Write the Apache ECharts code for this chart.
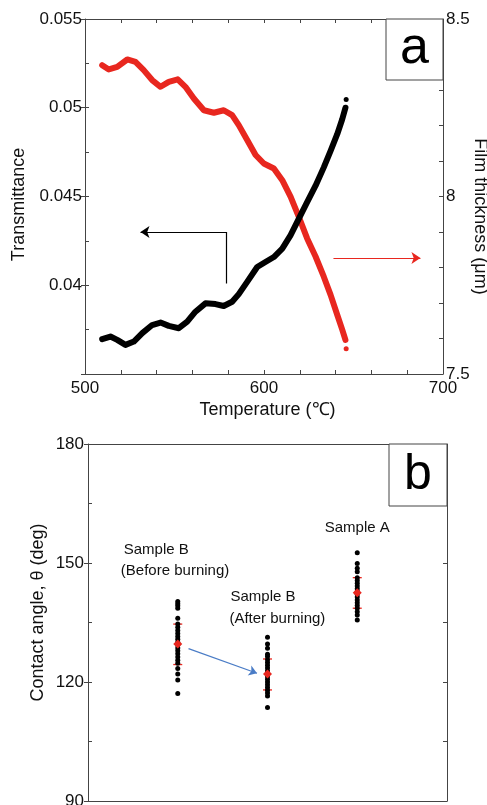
<!DOCTYPE html>
<html>
<head>
<meta charset="utf-8">
<script src="https://cdn.jsdelivr.net/npm/echarts/dist/echarts.min.js"></script>
<style>
html,body{margin:0;padding:0;background:#fff;}
#c{width:487px;height:805px;}
</style>
</head>
<body>
<div id="c"></div>
<script>
// ---------- Panel a data ----------
const tempBlack = [509.6, 514.2, 518.0, 522.6, 527.3, 532.0, 537.5, 542.2, 546.8, 552.4, 557.1, 561.7, 567.3, 572.9, 577.5, 582.2, 585.9, 590.6, 596.2, 600.8, 605.5, 610.2, 614.8, 619.4, 624.1, 628.8, 633.4, 637.2, 640.9, 643.7, 645.5];
const transmittance = [0.03696, 0.03711, 0.03692, 0.03664, 0.03683, 0.0373, 0.03776, 0.0379, 0.03771, 0.03758, 0.03795, 0.03851, 0.03898, 0.03894, 0.03883, 0.03907, 0.0395, 0.04019, 0.04103, 0.04131, 0.04159, 0.04206, 0.04281, 0.04374, 0.04468, 0.04561, 0.04664, 0.04757, 0.04851, 0.04935, 0.05];
const tempRed = [509.6, 513.3, 518.0, 523.6, 528.2, 532.8, 537.5, 542.2, 546.8, 551.8, 556.1, 560.8, 566.4, 572.0, 577.5, 582.2, 585.9, 590.6, 595.3, 599.9, 605.5, 610.2, 614.9, 619.4, 624.1, 628.8, 633.4, 637.2, 640.9, 643.7, 645.5];
const thickness = [8.370, 8.358, 8.365, 8.386, 8.379, 8.356, 8.328, 8.309, 8.323, 8.330, 8.309, 8.276, 8.243, 8.236, 8.243, 8.229, 8.201, 8.159, 8.117, 8.093, 8.079, 8.046, 7.999, 7.943, 7.882, 7.831, 7.774, 7.723, 7.667, 7.625, 7.596];
const blackEnd = [645.9, 0.05047];
const redEnd = [645.9, 7.571];
const blackArrow = [[579.1, 0.0401], [579.1, 0.0430], [531.0, 0.0430]];
const redArrow = [[638.8, 7.827], [687.4, 7.827]];

// ---------- Panel b data ----------
const groups = ['Sample B (Before burning)', 'Sample B (After burning)', 'Sample A'];
const groupPos = [1, 2, 3];
const beforeBurning = [140.3, 139.7, 139.2, 138.6, 136.1, 134.6, 133.8, 133.0, 132.2, 131.5, 130.8, 130.0, 129.3, 128.6, 127.9, 127.1, 126.3, 125.5, 124.7, 123.4, 122.0, 120.5, 117.1];
const afterBurning = [131.3, 129.6, 128.5, 127.0, 126.4, 125.6, 124.9, 124.2, 123.5, 122.8, 122.1, 121.4, 120.7, 120.0, 119.3, 118.6, 117.9, 117.2, 116.5, 113.6];
const sampleA = [152.6, 149.9, 148.7, 147.8, 146.3, 145.6, 144.9, 144.2, 143.5, 142.8, 142.1, 141.4, 140.7, 140.0, 139.3, 138.6, 137.7, 136.9, 135.6];
const means = [129.6, 122.0, 142.5];
const errLow = [124.4, 118.0, 138.6];
const errHigh = [134.6, 125.8, 146.3];
const blueArrow = [[1.12, 128.4], [1.883, 122.2]];
const annTexts = ['Sample B', '(Before burning)', 'Sample B', '(After burning)', 'Sample A'];
const annX = [0.76, 0.97, 1.95, 2.11, 3.0];
const annY = [153.3, 148.0, 141.4, 135.9, 158.9];

// ---------- layout ----------
const FONT = 'Liberation Sans, Arial, sans-serif';
const AX = '#444';
const TXT = '#111';
const RED = '#e8271f';
const g0 = {left: 85, top: 19, width: 358, height: 355};
const g1 = {left: 88, top: 444, width: 359, height: 357};

const chart = echarts.init(document.getElementById('c'), null, {renderer: 'canvas'});

function zip(a, b) { return a.map((v, i) => [v, b[i]]); }
const lbl = {fontSize: 17, color: TXT, fontFamily: FONT};
function nameStyle(padding) { return {fontSize: 18, color: TXT, fontFamily: FONT, padding: padding}; }

const dotData = [];
[beforeBurning, afterBurning, sampleA].forEach((arr, g) => arr.forEach(v => dotData.push([groupPos[g], v])));

// arrow segments: all but the last segment plain, last one with arrow head
const blackSegments = blackArrow.slice(1).map((p, i) => ({
  coords: [blackArrow[i], p],
  symbol: i === blackArrow.length - 2 ? ['none', 'arrow'] : ['none', 'none']
}));

const option = {
  animation: false,
  backgroundColor: '#fff',
  textStyle: {fontFamily: FONT},
  grid: [
    {left: g0.left, top: g0.top, width: g0.width, height: g0.height, containLabel: false, outerBoundsMode: 'none'},
    {left: g1.left, top: g1.top, width: g1.width, height: g1.height, containLabel: false, outerBoundsMode: 'none'}
  ],
  xAxis: [
    {gridIndex: 0, type: 'value', position: 'bottom', min: 500, max: 700, interval: 20,
     axisLine: {show: true, lineStyle: {color: AX, width: 1}},
     axisTick: {show: true, inside: true, length: 4, lineStyle: {color: AX}},
     axisLabel: Object.assign({margin: 6, formatter: v => (Math.round(v) % 100 === 0 ? String(Math.round(v)) : '')}, lbl),
     splitLine: {show: false},
     name: 'Temperature (\u2103)', nameLocation: 'middle', nameGap: 27, nameMoveOverlap: false, nameTextStyle: nameStyle([0, 0, 0, 7])},
    {gridIndex: 0, type: 'value', position: 'top', min: 500, max: 700, interval: 20,
     axisLine: {show: true, lineStyle: {color: AX, width: 1}},
     axisTick: {show: true, inside: true, length: 4, lineStyle: {color: AX}},
     axisLabel: {show: false}, splitLine: {show: false}},
    {gridIndex: 1, type: 'value', position: 'bottom', min: 0, max: 4,
     axisLine: {show: true, lineStyle: {color: AX, width: 1}},
     axisTick: {show: false}, axisLabel: {show: false}, splitLine: {show: false}},
    {gridIndex: 1, type: 'value', position: 'top', min: 0, max: 4,
     axisLine: {show: true, lineStyle: {color: AX, width: 1}},
     axisTick: {show: false}, axisLabel: {show: false}, splitLine: {show: false}}
  ],
  yAxis: [
    {gridIndex: 0, type: 'value', position: 'left', min: 0.035, max: 0.055, interval: 0.005,
     axisLine: {show: true, lineStyle: {color: AX, width: 1}},
     axisTick: {show: true, inside: false, length: 4, lineStyle: {color: AX}},
     axisLabel: Object.assign({margin: 3, formatter: v => (v < 0.0374 ? '' : String(+v.toFixed(4)))}, lbl),
     splitLine: {show: false},
     name: 'Transmittance', nameLocation: 'middle', nameGap: 57, nameMoveOverlap: false, nameTextStyle: nameStyle([0, 16, 0, 0])},
    {gridIndex: 0, type: 'value', position: 'right', min: 7.5, max: 8.5, interval: 0.1,
     axisLine: {show: true, lineStyle: {color: AX, width: 1}},
     axisTick: {show: true, inside: true, length: 4, lineStyle: {color: AX}},
     axisLabel: Object.assign({margin: 3, formatter: v => (Math.round(v * 10) % 5 === 0 ? String(+v.toFixed(1)) : '')}, lbl),
     splitLine: {show: false},
     name: 'Film thickness (\u03bcm)', nameLocation: 'middle', nameGap: 28, nameRotate: -90, nameMoveOverlap: false, nameTextStyle: nameStyle([0, 0, 0, 40])},
    {gridIndex: 0, type: 'value', position: 'left', min: 0.035, max: 0.055, interval: 0.0025,
     axisLine: {show: false}, axisTick: {show: true, inside: true, length: 4, lineStyle: {color: AX}},
     axisLabel: {show: false}, splitLine: {show: false}},
    {gridIndex: 1, type: 'value', position: 'left', min: 90, max: 180, interval: 30,
     axisLine: {show: true, lineStyle: {color: AX, width: 1}},
     axisTick: {show: true, inside: false, length: 4, lineStyle: {color: AX}},
     axisLabel: Object.assign({margin: 4}, lbl),
     splitLine: {show: false},
     name: 'Contact angle, \u03b8 (deg)', nameLocation: 'middle', nameGap: 41, nameMoveOverlap: false, nameTextStyle: nameStyle([0, 0, 0, 20])},
    {gridIndex: 1, type: 'value', position: 'left', min: 90, max: 180, interval: 15,
     axisLine: {show: false}, axisTick: {show: true, inside: true, length: 4, lineStyle: {color: AX}},
     axisLabel: {show: false}, splitLine: {show: false}},
    {gridIndex: 1, type: 'value', position: 'right', min: 90, max: 180, interval: 15,
     axisLine: {show: true, lineStyle: {color: AX, width: 1}},
     axisTick: {show: true, inside: true, length: 4, lineStyle: {color: AX}},
     axisLabel: {show: false}, splitLine: {show: false}}
  ],
  series: [
    {type: 'line', xAxisIndex: 0, yAxisIndex: 1, data: zip(tempRed, thickness), showSymbol: false, smooth: false,
     lineStyle: {color: RED, width: 6, cap: 'round', join: 'round'}, z: 3},
    {type: 'scatter', xAxisIndex: 0, yAxisIndex: 1, data: [redEnd], symbolSize: 5, itemStyle: {color: RED, opacity: 1}, z: 3},
    {type: 'line', xAxisIndex: 0, yAxisIndex: 0, data: zip(tempBlack, transmittance), showSymbol: false, smooth: false,
     lineStyle: {color: '#000', width: 6, cap: 'round', join: 'round'}, z: 4},
    {type: 'scatter', xAxisIndex: 0, yAxisIndex: 0, data: [blackEnd], symbolSize: 5, itemStyle: {color: '#000', opacity: 1}, z: 4},
    {type: 'lines', coordinateSystem: 'cartesian2d', xAxisIndex: 0, yAxisIndex: 0,
     symbol: ['none', 'arrow'], symbolSize: 9,
     lineStyle: {color: '#000', width: 1.2, opacity: 1}, data: blackSegments, z: 5},
    {type: 'lines', coordinateSystem: 'cartesian2d', xAxisIndex: 0, yAxisIndex: 1,
     symbol: ['none', 'arrow'], symbolSize: 9,
     lineStyle: {color: RED, width: 1.2, opacity: 1}, data: [{coords: redArrow}], z: 5},
    // panel b
    {type: 'custom', xAxisIndex: 2, yAxisIndex: 3, z: 2,
     data: groupPos.map((p, i) => [p, errLow[i], errHigh[i]]),
     renderItem: function (params, api) {
       const x = api.value(0);
       const lo = api.coord([x, api.value(1)]);
       const hi = api.coord([x, api.value(2)]);
       const hw = 4.5;
       const st = {stroke: RED, lineWidth: 1.3};
       return {type: 'group', children: [
         {type: 'line', shape: {x1: lo[0], y1: lo[1], x2: hi[0], y2: hi[1]}, style: st},
         {type: 'line', shape: {x1: lo[0] - hw, y1: lo[1], x2: lo[0] + hw, y2: lo[1]}, style: st},
         {type: 'line', shape: {x1: hi[0] - hw, y1: hi[1], x2: hi[0] + hw, y2: hi[1]}, style: st}
       ]};
     }},
    {type: 'scatter', xAxisIndex: 2, yAxisIndex: 3, data: dotData, symbolSize: 5,
     itemStyle: {color: '#000', opacity: 1}, z: 3},
    {type: 'scatter', xAxisIndex: 2, yAxisIndex: 3, data: zip(groupPos, means), symbol: 'diamond', symbolSize: 9,
     itemStyle: {color: RED, opacity: 1}, z: 4},
    {type: 'lines', coordinateSystem: 'cartesian2d', xAxisIndex: 2, yAxisIndex: 3,
     symbol: ['none', 'arrow'], symbolSize: 8,
     lineStyle: {color: '#4a7cc6', width: 1.2, opacity: 1}, data: [{coords: blueArrow}], z: 5},
    {type: 'scatter', xAxisIndex: 2, yAxisIndex: 3, symbolSize: 1, itemStyle: {color: 'rgba(0,0,0,0)', opacity: 1},
     data: annTexts.map((t, i) => ({name: t, value: [annX[i], annY[i]]})),
     label: {show: true, position: 'inside', formatter: p => p.name, fontSize: 15, color: TXT, opacity: 1, fontFamily: FONT}, z: 6}
  ],
  graphic: [
    {type: 'rect', shape: {x: g0.left + g0.width - 57, y: g0.top, width: 57, height: 61},
     style: {fill: '#fff', stroke: AX, lineWidth: 1}, z: 10},
    {type: 'text', x: g0.left + g0.width - 28.5, y: g0.top + 30,
     style: {text: 'a', fontSize: 52, fontFamily: FONT, fill: '#000', textAlign: 'center', textVerticalAlign: 'middle'}, z: 11},
    {type: 'rect', shape: {x: g1.left + g1.width - 58, y: g1.top, width: 58, height: 62},
     style: {fill: '#fff', stroke: AX, lineWidth: 1}, z: 10},
    {type: 'text', x: g1.left + g1.width - 29, y: g1.top + 31,
     style: {text: 'b', fontSize: 50, fontFamily: FONT, fill: '#000', textAlign: 'center', textVerticalAlign: 'middle'}, z: 11}
  ]
};
chart.setOption(option);
</script>
</body>
</html>
